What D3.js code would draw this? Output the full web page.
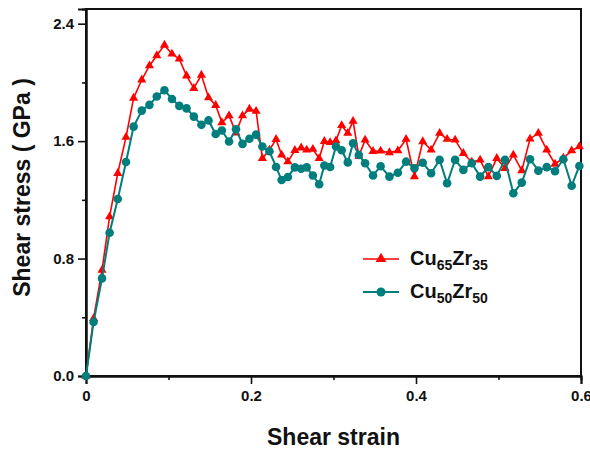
<!DOCTYPE html>
<html>
<head>
<meta charset="utf-8">
<script src="https://cdn.jsdelivr.net/npm/d3@7"></script>
<style>
  body { margin: 0; background: #fff; }
  text { font-family: "Liberation Sans", Arial, sans-serif; font-weight: bold; fill: #111; }
</style>
</head>
<body>
<div id="chart"></div>
<script>
// shear strain (x), shared by both curves
const strain = [0, 0.0092, 0.0194, 0.0286, 0.0385, 0.0485, 0.0577, 0.0676, 0.0769, 0.0858,
  0.0951, 0.1042, 0.1131, 0.1219, 0.1307, 0.1399, 0.1485, 0.1572, 0.1647, 0.1734,
  0.1818, 0.1897, 0.1981, 0.2062, 0.2138, 0.2223, 0.2304, 0.2371, 0.2447, 0.2532,
  0.2608, 0.2675, 0.275, 0.2826, 0.2889, 0.2959, 0.303, 0.3099, 0.3173, 0.3237,
  0.3307, 0.3383, 0.3479, 0.3571, 0.3678, 0.378, 0.388, 0.3981, 0.4082, 0.4183,
  0.4286, 0.4377, 0.4474, 0.4574, 0.4676, 0.4777, 0.4877, 0.4979, 0.5079, 0.518,
  0.5282, 0.5382, 0.5483, 0.5585, 0.5685, 0.5786, 0.5887, 0.598]

// shear stress (GPa), Cu65Zr35
const stressCu65 = [0, 0.392, 0.721, 1.085, 1.381, 1.627, 1.893, 2.018, 2.114, 2.183,
  2.254, 2.194, 2.160, 2.045, 1.960, 2.050, 1.896, 1.844, 1.726, 1.773,
  1.656, 1.773, 1.818, 1.804, 1.483, 1.540, 1.612, 1.506, 1.460, 1.537,
  1.554, 1.540, 1.545, 1.482, 1.599, 1.591, 1.603, 1.707, 1.654, 1.736,
  1.497, 1.608, 1.531, 1.533, 1.522, 1.535, 1.613, 1.358, 1.597, 1.540,
  1.654, 1.613, 1.608, 1.517, 1.458, 1.472, 1.358, 1.483, 1.415, 1.506,
  1.399, 1.615, 1.654, 1.540, 1.444, 1.485, 1.535, 1.563]

// shear stress (GPa), Cu50Zr50
const stressCu50 = [0, 0.368, 0.665, 0.976, 1.206, 1.458, 1.699, 1.808, 1.847, 1.904,
  1.947, 1.887, 1.840, 1.823, 1.767, 1.711, 1.741, 1.648, 1.672, 1.597,
  1.681, 1.581, 1.616, 1.644, 1.563, 1.531, 1.424, 1.335, 1.356, 1.421,
  1.412, 1.421, 1.366, 1.306, 1.434, 1.424, 1.563, 1.538, 1.455, 1.586,
  1.506, 1.449, 1.366, 1.429, 1.358, 1.385, 1.460, 1.415, 1.453, 1.381,
  1.472, 1.313, 1.472, 1.404, 1.449, 1.358, 1.423, 1.363, 1.472, 1.245,
  1.317, 1.477, 1.399, 1.423, 1.395, 1.477, 1.296, 1.431]

const xTicks = [0, 0.2, 0.4, 0.6]
const xMinorTicks = [0.1, 0.3, 0.5]
const yTicks = [0, 0.8, 1.6, 2.4]
const yMinorTicks = [0.4, 1.2, 2.0]

const RED = "#ff0000"
const TEAL = "#007d7d"

const MARGIN = { TOP: 9, BOTTOM: 74, LEFT: 86, RIGHT: 9 }
const WIDTH = 590 - MARGIN.LEFT - MARGIN.RIGHT
const HEIGHT = 450 - MARGIN.TOP - MARGIN.BOTTOM

const svg = d3.select("#chart")
  .append("svg")
    .attr("width", 590)
    .attr("height", 450)
  .append("g")
    .attr("transform", `translate(${MARGIN.LEFT}, ${MARGIN.TOP})`)

const x = d3.scaleLinear().domain([0, 0.6]).range([0, WIDTH])
const y = d3.scaleLinear().domain([0, 2.5]).range([HEIGHT, 0])

// frame
svg.append("rect")
  .attr("width", WIDTH)
  .attr("height", HEIGHT)
  .attr("fill", "none")
  .attr("stroke", "#111")
  .attr("stroke-width", 2)

// axes
const xAxis = svg.append("g")
  .attr("transform", `translate(0, ${HEIGHT})`)
  .call(d3.axisBottom(x).tickValues(xTicks).tickSize(8).tickPadding(6)
    .tickFormat(d => d === 0 ? "0" : d3.format(".1f")(d)))
svg.append("g")
  .attr("transform", `translate(0, ${HEIGHT})`)
  .call(d3.axisBottom(x).tickValues(xMinorTicks).tickSize(4).tickFormat(""))

const yAxis = svg.append("g")
  .call(d3.axisLeft(y).tickValues(yTicks).tickSize(8).tickPadding(4)
    .tickFormat(d3.format(".1f")))
svg.append("g")
  .call(d3.axisLeft(y).tickValues(yMinorTicks).tickSize(4).tickFormat(""))

svg.selectAll(".domain").attr("stroke", "#111").attr("stroke-width", 2)
svg.selectAll(".tick line").attr("stroke", "#111").attr("stroke-width", 1.6)
svg.selectAll(".tick text").style("font-size", "15px").style("font-weight", "bold")
  .style("font-family", "'Liberation Sans', Arial, sans-serif").attr("fill", "#111")

// axis titles
svg.append("text")
  .attr("x", WIDTH / 2)
  .attr("y", HEIGHT + 69)
  .attr("text-anchor", "middle")
  .style("font-size", "23px")
  .text("Shear strain")

svg.append("text")
  .attr("transform", "rotate(-90)")
  .attr("x", -(HEIGHT / 2) + 5)
  .attr("y", -56)
  .attr("text-anchor", "middle")
  .style("font-size", "23px")
  .text("Shear stress ( GPa )")

// data lines
const line = d3.line()
  .x((d, i) => x(strain[i]))
  .y(d => y(d))

svg.append("path")
  .datum(stressCu65)
  .attr("d", line)
  .attr("fill", "none")
  .attr("stroke", RED)
  .attr("stroke-width", 1.6)

svg.selectAll(".tri")
  .data(stressCu65)
  .enter().append("path")
    .attr("class", "tri")
    .attr("d", d3.symbol().type(d3.symbolTriangle).size(36))
    .attr("transform", (d, i) => `translate(${x(strain[i])}, ${y(d)})`)
    .attr("fill", RED)

svg.append("path")
  .datum(stressCu50)
  .attr("d", line)
  .attr("fill", "none")
  .attr("stroke", TEAL)
  .attr("stroke-width", 2)

svg.selectAll(".dot")
  .data(stressCu50)
  .enter().append("circle")
    .attr("class", "dot")
    .attr("cx", (d, i) => x(strain[i]))
    .attr("cy", d => y(d))
    .attr("r", 4.3)
    .attr("fill", TEAL)

// legend
const legend = svg.append("g")
  .attr("transform", "translate(277, 250)")

const items = [
  { color: RED, a: "65", b: "35", symbol: "tri" },
  { color: TEAL, a: "50", b: "50", symbol: "dot" }
]

items.forEach((item, i) => {
  const g = legend.append("g").attr("transform", `translate(0, ${i * 33})`)
  g.append("line")
    .attr("x1", 0).attr("x2", 36)
    .attr("stroke", item.color)
    .attr("stroke-width", i === 0 ? 1.6 : 2)
  if (item.symbol === "tri") {
    g.append("path")
      .attr("d", d3.symbol().type(d3.symbolTriangle).size(50))
      .attr("transform", "translate(18, 0)")
      .attr("fill", item.color)
  } else {
    g.append("circle").attr("cx", 18).attr("r", 4.5).attr("fill", item.color)
  }
  const t = g.append("text")
    .attr("x", 47)
    .attr("y", 6)
    .style("font-size", "20px")
  t.append("tspan").text("Cu")
  t.append("tspan").attr("dy", 5).style("font-size", "14px").text(item.a)
  t.append("tspan").attr("dy", -5).text("Zr")
  t.append("tspan").attr("dy", 5).style("font-size", "14px").text(item.b)
})
</script>
</body>
</html>
